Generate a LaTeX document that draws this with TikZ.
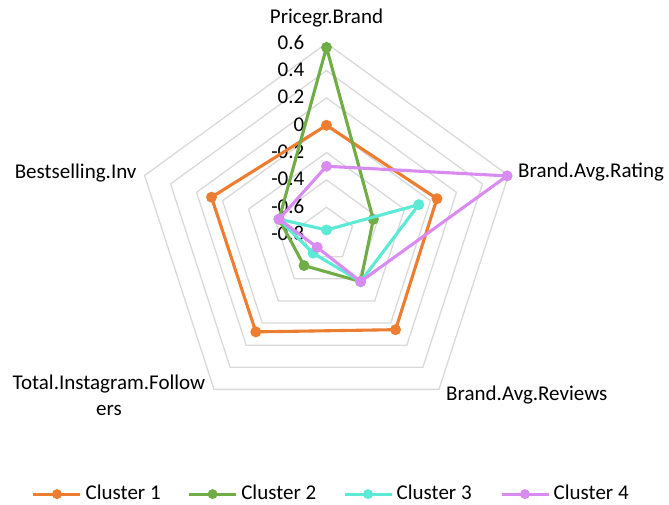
\documentclass[tikz,border=0pt]{standalone}
\usepackage{fontspec}
\setmainfont{Carlito}
\usetikzlibrary{positioning}

\definecolor{gridgray}{HTML}{D9D9D9}
\definecolor{clorange}{HTML}{ED7D31}
\definecolor{clgreen}{HTML}{70AD47}
\definecolor{clcyan}{HTML}{5CE9D6}
\definecolor{clpurple}{HTML}{DA8BF1}

\begin{document}
\begin{tikzpicture}[
    % GLOBAL CFG
    font=\fontsize{21}{25.5}\selectfont,
    x=1pt, y=1pt,
    % Styles
    ring/.style={% For the pentagon grid
        draw=gridgray,
        line width=1.3pt,
        },
    series/.style={% For the cluster lines
        line width=3.1pt,
        line join=round,
        },
    dot/.style={% For the markers
        circle,
        fill=#1,
        inner sep=0pt,
        minimum size=11pt,
        },
    ticklabel/.style={% For the values on the axis
        anchor=mid east,
        inner sep=0pt,
        yshift=-3.5pt,
        },
    axislabel/.style={% For the names of the axes
        inner sep=0pt,
        yshift=-3.5pt,
        },
    ]

    \useasboundingbox (-326.5,-270.4) rectangle (342.5,234.6);

%Start drawing the thing...
    % Draw the grid, one pentagon per step of 0.2
    \foreach \k in {1,...,7}
        \draw[ring] (90:{\k*27.33}) -- (18:{\k*27.33}) -- (-54:{\k*27.33})
            -- (-126:{\k*27.33}) -- (162:{\k*27.33}) -- cycle;

    % Draw the values named tick#
    \foreach \v [count=\k from 0] in {-0.8,-0.6,-0.4,-0.2,0,0.2,0.4,0.6}
        \node[ticklabel] (tick\k) at (-22,{\k*27.33}) {\v};

    % Draw the axis names
    \node[axislabel, anchor=mid] (price) at (0,216.6) {Pricegr.Brand};
    \node[axislabel, anchor=mid west] (rating) at (191.5,62.6) {Brand.Avg.Rating};
    \node[axislabel, anchor=mid west] (reviews) at (119.5,-160.4) {Brand.Avg.Reviews};
    \node[axislabel, align=center, yshift=3.5pt] (insta) at (-217.5,-160.9) {Total.Instagram.Follow\\ers};
    \node[axislabel, anchor=mid east] (best) at (-189.8,61.9) {Bestselling.Inv};

% Start connecting all.
    % One line and five markers per cluster
    \foreach \name/\col/\a/\b/\c/\d/\e in {
        one/clorange/0.0/0.05/0.06/0.08/0.085,
        two/clgreen/0.57/-0.44/-0.375/-0.52/-0.435,
        three/clcyan/-0.766/-0.09/-0.375/-0.632/-0.435,
        four/clpurple/-0.30/0.59/-0.375/-0.685/-0.435}
    {
        \coordinate (\name1) at (90:{(\a+0.8)*136.65});
        \coordinate (\name2) at (18:{(\b+0.8)*136.65});
        \coordinate (\name3) at (-54:{(\c+0.8)*136.65});
        \coordinate (\name4) at (-126:{(\d+0.8)*136.65});
        \coordinate (\name5) at (162:{(\e+0.8)*136.65});
        \draw[series, \col] (\name1) -- (\name2) -- (\name3) -- (\name4) -- (\name5) -- cycle;
        \foreach \i in {1,...,5}
            \node[dot=\col] (\name dot\i) at (\name\i) {};
    }

    %Legend
    \foreach \name/\col/\x/\txt in {
        one/clorange/-269.5/Cluster 1,
        two/clgreen/-113.9/Cluster 2,
        three/clcyan/41.5/Cluster 3,
        four/clpurple/198.5/Cluster 4}
    {
        \coordinate (leg\name) at (\x,-259.5);
        \draw[series, \col] (leg\name) ++(-23.5,0) -- ++(47,0);
        \node[dot=\col, minimum size=10pt] (legdot\name) at (leg\name) {};
        \node[axislabel, anchor=mid west] (legtxt\name) at ([xshift=28.5pt]leg\name) {\txt};
    }

\end{tikzpicture}
\end{document}
